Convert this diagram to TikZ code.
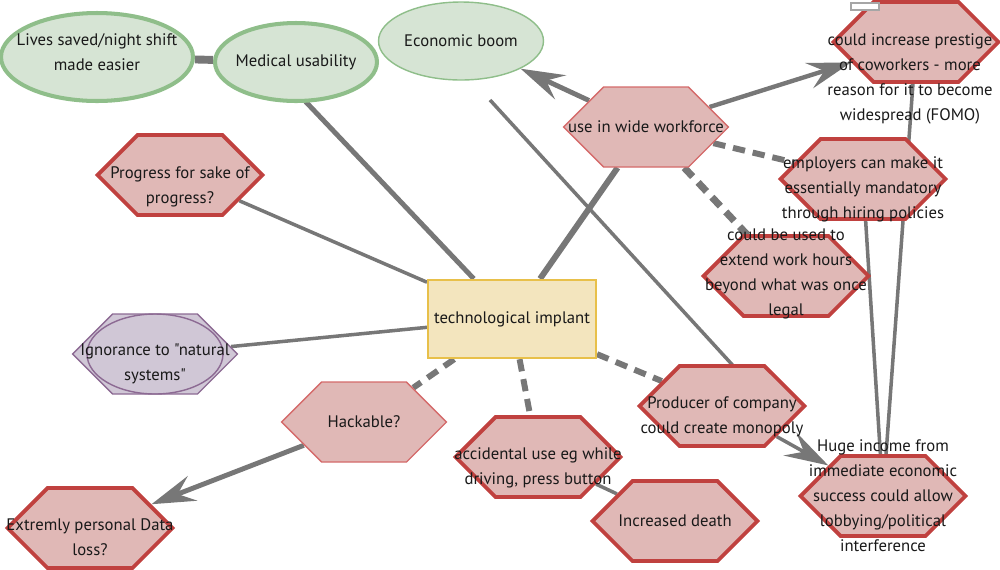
\documentclass[tikz,border=0pt]{standalone}
\usepackage{fontspec}
\setmainfont{PT Sans}[Ligatures=TeXOff]
\usetikzlibrary{shapes.geometric,shapes.symbols,arrows.meta,backgrounds,calc}
\definecolor{goodfill}{HTML}{D6E4D4}
\definecolor{goodline}{HTML}{8FBE8A}
\definecolor{badfill}{HTML}{E0B8B6}
\definecolor{badline}{HTML}{C0413F}
\definecolor{badthin}{HTML}{D46A6A}
\definecolor{techfill}{HTML}{F3E5BE}
\definecolor{techline}{HTML}{E8C04A}
\definecolor{ignfill}{HTML}{D0C7D6}
\definecolor{ignline}{HTML}{8C6A93}
\definecolor{linkgray}{HTML}{777777}
\tikzset{every node/.style={font=\fontsize{9.5}{14.2}\selectfont, text=black!90, align=center}}
\tikzset{good/.style={ellipse, draw=goodline, fill=goodfill, line width=2.3pt, inner sep=0pt}}
\tikzset{hex/.style={signal, signal to=east and west, signal pointer angle=90,
      draw=badline, fill=badfill, line width=2.2pt, inner sep=0pt,
      minimum width=3.3cm, minimum height=1.6cm}}
\tikzset{hexthin/.style={hex, draw=badthin, line width=0.8pt}}
\tikzset{link/.style={draw=linkgray, line width=2pt}}
\tikzset{weak/.style={draw=linkgray, line width=3.4pt, dash pattern=on 7pt off 4.5pt}}
\tikzset{push/.style={link, line width=2.8pt, -{Stealth[length=25pt,width=15pt,inset=9pt]}}}

\begin{document}
\begin{tikzpicture}[x=0.02cm,y=-0.02cm]
    \useasboundingbox (0,0) rectangle (1000,569);
    % good side
    \node[good, minimum width=3.84cm, minimum height=1.76cm, label={[yshift=0.1cm]center:Lives saved/night shift\\made easier}] (lives) at (97,57) {};
    \node[good, minimum width=3.24cm, minimum height=1.56cm, label={center:Medical usability}] (med) at (296,62) {};
    \node[good, line width=0.8pt, minimum width=3.3cm, minimum height=1.56cm, label={center:Economic boom}] (eco) at (461,41) {};
    % centre
    \node[draw=techline, fill=techfill, line width=1.4pt, minimum width=3.28cm, minimum height=1.56cm] (tech) at (512,319) {technological implant};
    % workforce branch
    \node[hexthin, label={center:use in wide workforce}] (work) at (646,127) {};
    \node[hex, label={[xshift=-0.12cm,yshift=-0.74cm]center:could increase prestige\\of coworkers - more\\reason for it to become\\widespread (FOMO)}] (prest) at (916,42) {};
    \node[draw=gray!70, fill=white, line width=0.6pt, minimum width=0.56cm, minimum height=0.14cm, inner sep=0pt] (tag) at (865,6.5) {};
    \node[hex, label={[yshift=-0.2cm]center:employers can make it\\essentially mandatory\\through hiring policies}] (empl) at (863,179) {};
    \node[hex, label={[yshift=0.04cm]center:could be used to\\extend work hours\\beyond what was once\\legal}] (extend) at (786,276) {};
    \node[hex, label={center:Huge income from\\immediate economic\\success could allow\\lobbying/political\\interference}] (huge) at (883,496) {};
    \node[hex, label={[yshift=-0.22cm]center:Producer of company\\could create monopoly}] (prod) at (722,406) {};
    % left side
    \node[hex, label={[yshift=-0.24cm]center:Progress for sake of\\progress?}] (prog) at (180,175) {};
    \node[hexthin, draw=ignline, fill=ignfill] (ign) at (155,354) {};
    \node[ellipse, draw=ignline, line width=0.8pt, minimum width=2.72cm, minimum height=1.6cm, inner sep=0pt, label={[yshift=-0.2cm]center:Ignorance to "natural\\systems"}] (ign-e) at (ign) {};
    \node[hexthin, label={center:Hackable?}] (hack) at (364,422) {};
    \node[hex, label={[yshift=-0.18cm]center:Extremly personal Data\\loss?}] (data) at (90,528) {};
    \node[hex, label={[yshift=-0.22cm]center:accidental use eg while\\driving, press button}] (acc) at (538,457) {};
    \node[hex, label={center:Increased death}] (death) at (675,521) {};
    \coordinate (ecoend) at (490,100);

    \begin{scope}[on background layer]
      \draw[link, line width=4.5pt] (lives) -- (med);
      \draw[link, line width=2.8pt] ($(med)+(-28,0)$) -- (tech);
      \draw[link, line width=3.4pt] (work) -- (tech);
      \draw[link] (prog) -- (tech);
      \draw[link] (ign) -- (tech);
      \draw[link] (ecoend) -- ($(prod)+(48,0)$);
      \draw[push] (work) -- (eco);
      \draw[push, line width=2.5pt] (work) -- (prest);
      \draw[weak] (work) -- (empl);
      \draw[weak, line width=4pt] (work) -- (extend);
      \draw[weak] (tech) -- (hack);
      \draw[weak] (tech) -- (acc);
      \draw[weak] (tech) -- (prod);
      \draw[push] (hack) -- (data);
      \draw[link] (acc) -- (death);
      \draw[push, line width=2pt] (prod) -- (huge);
      \draw[link] (empl) -- (huge);
      \draw[link] (prest) -- (huge);
    \end{scope}
  \end{tikzpicture}
\end{document}
